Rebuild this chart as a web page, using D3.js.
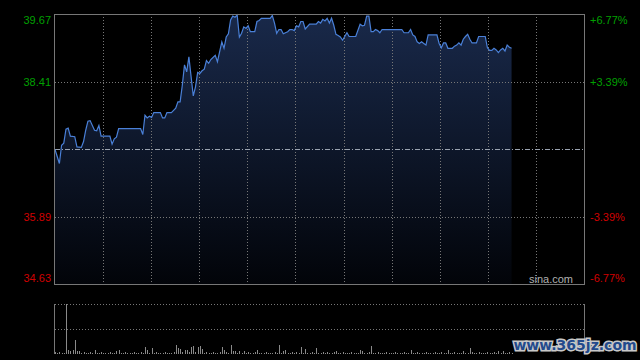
<!DOCTYPE html>
<html>
<head>
<meta charset="utf-8">
<script src="https://cdn.jsdelivr.net/npm/d3@7"></script>
<style>
  body { margin: 0; background: #000; }
  svg { display: block; }
</style>
</head>
<body>
<div id="chart"></div>
<script>
// Intraday minute data (minute index from the open, last price)
const minutes = [0, 2, 3, 4, 5, 6, 7, 9, 10, 12, 13, 14, 15, 16, 18, 19, 20, 21, 25, 26, 27, 28, 29, 39, 40, 41, 42, 43, 44, 45, 48, 49, 50, 51, 53, 55, 56, 57,
  58, 59, 60, 61, 62, 63, 64, 65, 66, 67, 68, 69, 70, 71, 73, 74, 76, 77, 78, 79, 80, 81, 82, 83, 84, 85, 86, 87, 88, 89, 91, 92, 93, 94, 98, 99,
  100, 101, 102, 103, 104, 106, 107, 108, 109, 110, 111, 112, 113, 114, 116, 119, 120, 121, 122, 123, 124, 125, 126, 127, 128, 129, 130, 131, 133, 134, 137,
  139, 140, 141, 142, 143, 144, 145, 146, 147, 148, 149, 158, 159, 161, 162, 163, 164, 165, 166, 167, 168, 169, 170, 174, 175, 176, 177, 178, 179, 181,
  182, 183, 184, 185, 186, 187, 188, 189, 190, 192, 193, 196, 197, 198, 199, 200, 201, 202, 203, 204, 205, 206, 207, 208];
const prices = [37.14, 36.88, 37.22, 37.26, 37.52, 37.54, 37.39, 37.38, 37.19, 37.18, 37.29, 37.50, 37.67, 37.68, 37.50, 37.49, 37.59, 37.39, 37.39, 37.24, 37.34, 37.37, 37.53, 37.53, 37.42, 37.78, 37.73, 37.76, 37.74, 37.83, 37.83, 37.73, 37.73, 37.83, 37.83, 37.91, 38.03, 38.03,
  38.34, 38.72, 38.59, 38.87, 38.50, 38.14, 38.31, 38.58, 38.56, 38.61, 38.64, 38.80, 38.75, 38.82, 38.90, 38.78, 39.15, 39.03, 39.24, 39.30, 39.56, 39.63, 39.61, 39.65, 39.24, 39.31, 39.43, 39.40, 39.45, 39.34, 39.34, 39.53, 39.55, 39.59, 39.59, 39.64,
  39.50, 39.31, 39.38, 39.38, 39.30, 39.34, 39.38, 39.38, 39.36, 39.45, 39.43, 39.53, 39.53, 39.39, 39.48, 39.48, 39.53, 39.50, 39.57, 39.54, 39.59, 39.50, 39.59, 39.46, 39.29, 39.27, 39.24, 39.18, 39.32, 39.25, 39.25,
  39.48, 39.45, 39.46, 39.63, 39.63, 39.34, 39.34, 39.38, 39.36, 39.32, 39.38, 39.38, 39.32, 39.32, 39.38, 39.28, 39.25, 39.15, 39.12, 39.15, 39.12, 39.09, 39.28, 39.28, 39.12, 39.04, 39.13, 39.13, 39.03, 39.03,
  39.07, 39.09, 39.13, 39.09, 39.20, 39.25, 39.29, 39.20, 39.13, 39.13, 39.25, 39.25, 39.04, 38.99, 38.99, 39.03, 39.00, 38.95, 39.00, 39.03, 38.98, 39.09, 39.05, 39.03];

// Volume per minute (relative units)
const volumes = [2, 1, 2, 1, 1, 50, 4, 3, 4, 14, 3, 3, 1, 2, 1, 1, 2, 1, 4, 1, 1, 2, 1, 1, 1, 2, 1, 1, 3, 4, 1, 1, 2, 1, 1, 1, 2, 1, 1, 2,
  1, 7, 4, 1, 6, 1, 2, 1, 1, 1, 2, 1, 1, 1, 2, 9, 6, 5, 2, 4, 4, 2, 7, 8, 2, 7, 8, 5, 1, 2, 1, 1, 2, 1, 1, 2, 7, 4, 2, 1,
  9, 3, 3, 1, 3, 1, 3, 1, 2, 1, 1, 2, 4, 1, 1, 1, 2, 1, 1, 1, 2, 1, 9, 1, 3, 4, 1, 1, 2, 1, 2, 1, 7, 1, 5, 1, 1, 2, 1, 6,
  1, 1, 2, 1, 2, 1, 1, 2, 3, 1, 1, 2, 1, 1, 1, 2, 1, 1, 1, 4, 3, 1, 1, 2, 8, 1, 1, 2, 1, 1, 1, 2, 1, 1, 1, 2, 1, 1, 1, 2,
  1, 1, 4, 1, 1, 2, 1, 1, 1, 2, 1, 1, 1, 2, 1, 1, 2, 1, 1, 4, 1, 1, 2, 1, 1, 1, 3, 1, 1, 6, 2, 1, 1, 2, 1, 1, 1, 2, 1, 1,
  2, 1, 3, 1, 3, 1, 1, 2, 1];

// Axis tick values
const prevClose = 37.15;
const priceTicks = [39.67, 38.41, 35.89, 34.63];
const pctTicks = ["+6.77%", "+3.39%", "-3.39%", "-6.77%"];

const width = 640;
const height = 360;
const plotLeft = 55, plotRight = 584;
const plotTop = 14, plotBottom = 284;
const volTop = 304, volBottom = 354;

const svg = d3.select("#chart")
  .append("svg")
  .attr("width", width)
  .attr("height", height)
  .style("background", "#000");

// Scales
const xScale = d3.scaleLinear().domain([0, 241]).range([plotLeft, plotRight]);
const yScale = d3.scaleLinear().domain([34.63, 39.67]).range([plotBottom, plotTop]);
const volScale = d3.scaleLinear().domain([0, 50]).range([volBottom, volTop]);

// Area gradient
const defs = svg.append("defs");
const grad = defs.append("linearGradient")
  .attr("id", "areaFill")
  .attr("gradientUnits", "userSpaceOnUse")
  .attr("x1", 0).attr("y1", plotTop).attr("x2", 0).attr("y2", plotBottom);
grad.append("stop").attr("offset", "0%").attr("stop-color", "#19294a");
grad.append("stop").attr("offset", "100%").attr("stop-color", "#020409");

const points = minutes.map((m, i) => [m, prices[i]]);

// Price area
svg.append("path")
  .datum(points)
  .attr("fill", "url(#areaFill)")
  .attr("d", d3.area()
    .x(d => xScale(d[0]))
    .y0(plotBottom)
    .y1(d => yScale(d[1])));

// Vertical grid lines
const vTicks = d3.range(1, 11).map(k => plotLeft + (plotRight - plotLeft) * k / 11);
svg.selectAll(".vgrid")
  .data(vTicks)
  .enter().append("line")
  .attr("x1", d => Math.round(d) + 0.5)
  .attr("x2", d => Math.round(d) + 0.5)
  .attr("y1", plotTop)
  .attr("y2", plotBottom)
  .attr("stroke", "#777")
  .attr("stroke-dasharray", "1,2");

// Horizontal grid lines
svg.selectAll(".hgrid")
  .data([38.41, 35.89])
  .enter().append("line")
  .attr("x1", plotLeft)
  .attr("x2", plotRight)
  .attr("y1", d => Math.round(yScale(d)) + 0.5)
  .attr("y2", d => Math.round(yScale(d)) + 0.5)
  .attr("stroke", "#777")
  .attr("stroke-dasharray", "1,2");

// Previous close line
svg.append("line")
  .attr("x1", plotLeft)
  .attr("x2", plotRight)
  .attr("y1", Math.round(yScale(prevClose)) + 0.5)
  .attr("y2", Math.round(yScale(prevClose)) + 0.5)
  .attr("stroke", "#9aa3b0")
  .attr("stroke-dasharray", "5,2,1,2");

// Price line
svg.append("path")
  .datum(points)
  .attr("fill", "none")
  .attr("stroke", "#4a80d8")
  .attr("stroke-width", 1.2)
  .attr("d", d3.line()
    .x(d => xScale(d[0]))
    .y(d => yScale(d[1])));

// Frame of the price panel
svg.append("rect")
  .attr("x", plotLeft - 0.5)
  .attr("y", plotTop + 0.5)
  .attr("width", plotRight - plotLeft + 1)
  .attr("height", plotBottom - plotTop)
  .attr("fill", "none")
  .attr("stroke", "#777");

// Left price labels
svg.selectAll(".plabel")
  .data(priceTicks)
  .enter().append("text")
  .attr("x", 51)
  .attr("y", (d, i) => [20, 82, 217, 278][i])
  .attr("dy", "0.35em")
  .attr("text-anchor", "end")
  .attr("font-family", "'Liberation Sans', Arial, sans-serif")
  .attr("font-size", "11px")
  .attr("fill", d => d > prevClose ? "#00a000" : "#d00000")
  .text(d => d.toFixed(2));

// Right percent labels
svg.selectAll(".pctlabel")
  .data(pctTicks)
  .enter().append("text")
  .attr("x", 590)
  .attr("y", (d, i) => [20, 82, 217, 278][i])
  .attr("dy", "0.35em")
  .attr("font-family", "'Liberation Sans', Arial, sans-serif")
  .attr("font-size", "11px")
  .attr("fill", d => d[0] === "+" ? "#00a000" : "#d00000")
  .text(d => d);

// Source text
svg.append("text")
  .attr("x", 573)
  .attr("y", 279)
  .attr("dy", "0.35em")
  .attr("text-anchor", "end")
  .attr("font-family", "'Liberation Sans', Arial, sans-serif")
  .attr("font-size", "11px")
  .attr("fill", "#b0b0b0")
  .text("sina.com");

// Volume panel grid
svg.selectAll(".volgrid")
  .data([volTop, (volTop + volBottom) / 2])
  .enter().append("line")
  .attr("x1", plotLeft)
  .attr("x2", plotRight)
  .attr("y1", d => Math.round(d) + 0.5)
  .attr("y2", d => Math.round(d) + 0.5)
  .attr("stroke", "#777")
  .attr("stroke-dasharray", "1,2");

svg.selectAll(".volside")
  .data([plotLeft - 0.5, plotRight + 0.5])
  .enter().append("line")
  .attr("x1", d => d)
  .attr("x2", d => d)
  .attr("y1", volTop)
  .attr("y2", volBottom)
  .attr("stroke", "#777");

// Volume bars
svg.selectAll(".vol")
  .data(volumes)
  .enter().append("line")
  .attr("x1", (d, i) => Math.round(xScale(i)) + 0.5)
  .attr("x2", (d, i) => Math.round(xScale(i)) + 0.5)
  .attr("y1", volBottom)
  .attr("y2", d => volScale(d))
  .attr("stroke", "#8a8a8a");

// Watermark
svg.append("text")
  .attr("x", 575)
  .attr("y", 345)
  .attr("dy", "0.35em")
  .attr("text-anchor", "middle")
  .attr("font-family", "'DejaVu Sans', sans-serif")
  .attr("font-weight", "bold")
  .attr("font-size", "14px")
  .attr("fill", "#234a8c")
  .attr("stroke", "#c8c8c8")
  .attr("stroke-width", 3)
  .attr("paint-order", "stroke")
  .text("www.365jz.com");
</script>
</body>
</html>
